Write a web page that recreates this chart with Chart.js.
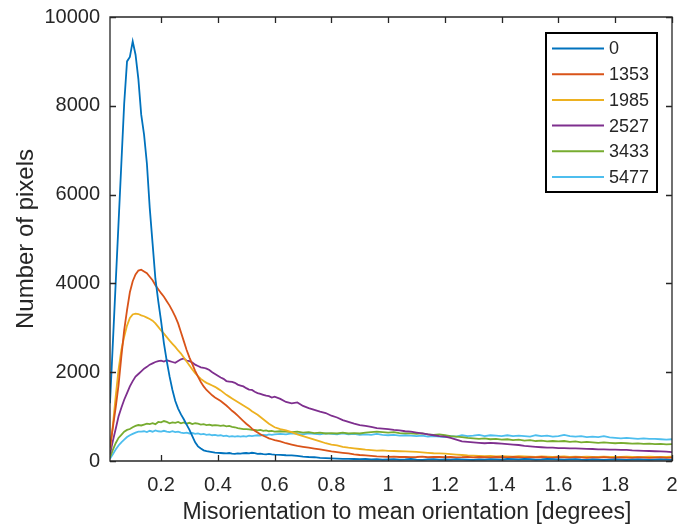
<!DOCTYPE html>
<html>
<head>
<meta charset="utf-8">
<script src="https://cdn.jsdelivr.net/npm/chart.js@4"></script>
<style>
  html, body { margin: 0; padding: 0; background: #fff; }
  #wrap { width: 680px; height: 526px; }
</style>
</head>
<body>
<div id="wrap"><canvas id="myChart" width="680" height="526"></canvas></div>
<script>
// misorientation bins [degrees]
const xValues = [
  0.02, 0.03, 0.04, 0.05, 0.06, 0.07, 0.08, 0.09, 0.10, 0.11,
  0.12, 0.13, 0.14, 0.15, 0.16, 0.17, 0.18, 0.19, 0.20, 0.21,
  0.22, 0.23, 0.24, 0.25, 0.26, 0.27, 0.28, 0.29, 0.30, 0.31,
  0.32, 0.33, 0.34, 0.35, 0.36, 0.37, 0.38, 0.39, 0.40, 0.41,
  0.42, 0.43, 0.44, 0.45, 0.46, 0.47, 0.48, 0.49, 0.50, 0.51,
  0.52, 0.53, 0.54, 0.55, 0.56, 0.57, 0.58, 0.59, 0.60,
  0.62, 0.64, 0.66, 0.68, 0.70, 0.72, 0.74, 0.76, 0.78, 0.80,
  0.82, 0.84, 0.86, 0.88, 0.90, 0.92, 0.94, 0.96, 0.98, 1.00,
  1.02, 1.04, 1.06, 1.08, 1.10, 1.12, 1.14, 1.16, 1.18, 1.20,
  1.22, 1.24, 1.26, 1.28, 1.30, 1.32, 1.34, 1.36, 1.38, 1.40,
  1.42, 1.44, 1.46, 1.48, 1.50, 1.52, 1.54, 1.56, 1.58, 1.60,
  1.62, 1.64, 1.66, 1.68, 1.70, 1.72, 1.74, 1.76, 1.78, 1.80,
  1.82, 1.84, 1.86, 1.88, 1.90, 1.92, 1.94, 1.96, 1.98, 2.00
];

const pixels0 = [
  1300, 2650, 4000, 5350, 6700, 8050, 9000, 9100, 9450, 9150,
  8600, 7800, 7350, 6700, 5700, 4900, 4100, 3600, 3150, 2650,
  2250, 1900, 1600, 1350, 1180, 1050, 940, 820, 700, 560,
  420, 330, 280, 240, 220, 210, 200, 190, 185, 180,
  175, 170, 180, 165, 160, 170, 165, 175, 180, 170,
  185, 175, 160, 165, 155, 150, 160, 150, 145,
  140, 130, 125, 115, 100, 90, 85, 70, 65, 60,
  55, 50, 50, 45, 40, 45, 35, 40, 30, 35,
  40, 30, 35, 45, 30, 25, 35, 40, 30, 35,
  30, 40, 35, 30, 25, 35, 30, 40, 35, 30,
  45, 40, 35, 50, 40, 30, 35, 45, 40, 35,
  30, 35, 40, 30, 25, 35, 30, 25, 30, 35,
  30, 25, 30, 35, 30, 25, 30, 35, 30, 25
];

const pixels1353 = [
  300, 750, 1200, 1700, 2350, 2950, 3400, 3800, 4050, 4200,
  4290, 4310, 4270, 4230, 4150, 4070, 3960, 3870, 3780, 3700,
  3600, 3500, 3380, 3250, 3100, 2900, 2700, 2500, 2330, 2180,
  2030, 1900, 1780, 1680, 1600, 1540, 1480, 1430, 1390, 1350,
  1300, 1250, 1190, 1130, 1080, 1020, 960, 900, 840, 790,
  730, 680, 640, 600, 570, 540, 510, 490, 470,
  440, 400, 370, 340, 320, 300, 280, 260, 240, 215,
  200, 185, 170, 150, 135, 125, 115, 105, 100, 95,
  100, 90, 95, 85, 90, 100, 85, 90, 95, 85,
  90, 80, 85, 95, 80, 90, 85, 80, 90, 85,
  80, 90, 85, 75, 85, 80, 90, 80, 75, 85,
  80, 75, 85, 80, 70, 80, 75, 85, 75, 70,
  80, 75, 70, 80, 75, 70, 75, 80, 70, 75
];

const pixels1985 = [
  250, 800, 1450, 2050, 2500, 2800, 3050, 3220, 3300, 3320,
  3310, 3280, 3260, 3230, 3200, 3160, 3100, 3020, 2940, 2870,
  2790, 2710, 2640, 2570, 2490, 2420, 2330, 2240, 2150, 2060,
  1980, 1910, 1850, 1800, 1760, 1730, 1700, 1670, 1630, 1590,
  1540, 1490, 1450, 1410, 1370, 1330, 1290, 1250, 1210, 1170,
  1120, 1080, 1040, 990, 940, 890, 840, 800, 760,
  720, 690, 650, 600, 560, 520, 480, 440, 400, 370,
  350, 320, 300, 285, 270, 255, 245, 235, 240, 230,
  225, 220, 215, 210, 205, 195, 185, 175, 170, 165,
  155, 145, 135, 125, 120, 115, 110, 115, 105, 110,
  105, 100, 110, 105, 100, 95, 105, 100, 95, 100,
  105, 95, 100, 90, 100, 95, 90, 100, 95, 90,
  95, 100, 90, 95, 90, 100, 95, 90, 95, 100
];

const pixels2527 = [
  150, 450, 720, 1000, 1200, 1380, 1530, 1680, 1800, 1900,
  1960, 2020, 2080, 2120, 2170, 2200, 2230, 2250, 2260, 2240,
  2270, 2250, 2230, 2210, 2250, 2290, 2310, 2260, 2250, 2220,
  2170, 2140, 2110, 2100, 2080, 2050, 2000, 1960, 1920, 1880,
  1850, 1800, 1790, 1780, 1760, 1720, 1700, 1680, 1640, 1610,
  1600, 1560, 1530, 1510, 1490, 1470, 1460, 1430, 1450,
  1400, 1330, 1300, 1320, 1240, 1190, 1150, 1110, 1080, 1020,
  980, 920, 880, 840, 810, 790, 770, 740, 730, 720,
  700, 690, 670, 660, 640, 620, 600, 580, 560, 550,
  520, 480, 440, 430, 420, 410, 400, 410, 400, 390,
  380, 370, 360, 340, 330, 320, 310, 300, 300, 290,
  290, 285, 285, 280, 275, 270, 260, 260, 255, 255,
  250, 250, 240, 235, 230, 225, 220, 215, 210, 200
];

const pixels3433 = [
  80, 250, 400, 520, 590, 660, 700, 720, 760, 790,
  810, 800, 820, 840, 830, 850, 830, 880, 870, 900,
  880, 850, 870, 860, 880, 850, 870, 840, 860, 830,
  850, 840, 820, 830, 810, 820, 800, 810, 800, 790,
  800, 780, 790, 770, 760, 740, 730, 720, 720, 710,
  700, 700, 690, 700, 680, 690, 670, 680, 660,
  670, 660, 650, 660, 640, 650, 630, 640, 620, 630,
  620, 640, 620, 630, 620, 640, 650, 660, 650, 640,
  650, 630, 620, 620, 610, 620, 600, 590, 600, 580,
  560, 550, 540, 520, 510, 500, 510, 490, 500, 480,
  490, 470, 480, 460, 470, 450, 460, 440, 450, 440,
  450, 430, 440, 420, 430, 420, 410, 420, 410, 400,
  410, 400, 390, 395, 385, 390, 380, 385, 375, 380
];

const pixels5477 = [
  50, 150, 260, 350, 420, 480, 540, 580, 610, 640,
  660, 660, 670, 650, 680, 660, 690, 670, 660, 680,
  660, 650, 670, 650, 660, 640, 630, 640, 620, 630,
  610, 620, 600, 610, 590, 600, 580, 590, 570, 580,
  560, 570, 550, 560, 550, 560, 550, 560, 550, 570,
  560, 570, 580, 570, 590, 580, 600, 590, 600,
  610, 600, 620, 610, 600, 620, 610, 600, 620, 610,
  600, 620, 600, 610, 590, 600, 590, 610, 590, 580,
  590, 570, 580, 570, 560, 570, 550, 560, 550, 540,
  560, 550, 580, 560, 570, 590, 560, 580, 570, 560,
  580, 560, 570, 560, 550, 580, 560, 570, 550, 560,
  590, 560, 550, 560, 540, 550, 540, 560, 530, 520,
  510, 520, 510, 500, 510, 500, 500, 490, 480, 490
];

const seriesLabels = ['0', '1353', '1985', '2527', '3433', '5477'];
const seriesValues = [pixels0, pixels1353, pixels1985, pixels2527, pixels3433, pixels5477];
const seriesColors = ['#0072BD', '#D95319', '#EDB120', '#7E2F8E', '#77AC30', '#4DBEEE'];

const xTicks = [0.2, 0.4, 0.6, 0.8, 1, 1.2, 1.4, 1.6, 1.8, 2];
const yTicks = [0, 2000, 4000, 6000, 8000, 10000];
const xTitle = 'Misorientation to mean orientation [degrees]';
const yTitle = 'Number of pixels';

const ink = '#262626';
const fontFamily = "'Liberation Sans', Arial, Helvetica, sans-serif";

// box around the plot, inward ticks, x title and the legend box, MATLAB style
const framePlugin = {
  id: 'frame',
  afterDatasetsDraw(chart) {
    const ctx = chart.ctx;
    const a = chart.chartArea;
    const xs = chart.scales.x, ys = chart.scales.y;
    const len = 6;
    ctx.save();
    ctx.strokeStyle = ink;
    ctx.lineWidth = 1.3;
    ctx.beginPath();
    ctx.rect(a.left, a.top, a.right - a.left, a.bottom - a.top);
    xTicks.forEach(v => {
      const px = Math.round(xs.getPixelForValue(v)) + 0.5;
      ctx.moveTo(px, a.bottom); ctx.lineTo(px, a.bottom - len);
      ctx.moveTo(px, a.top); ctx.lineTo(px, a.top + len);
    });
    yTicks.forEach(v => {
      const py = Math.round(ys.getPixelForValue(v)) + 0.5;
      ctx.moveTo(a.left, py); ctx.lineTo(a.left + len, py);
      ctx.moveTo(a.right, py); ctx.lineTo(a.right - len, py);
    });
    ctx.stroke();

    // x axis title, sits a little right of the axis centre in the original
    ctx.fillStyle = ink;
    ctx.font = '23px ' + fontFamily;
    ctx.textAlign = 'center';
    ctx.textBaseline = 'middle';
    ctx.fillText(xTitle, (a.left + a.right) / 2 + 16, a.bottom + 52);

    // legend
    const boxW = 111, boxH = 159;
    const bx = a.right - 15 - boxW, by = a.top + 16;
    ctx.fillStyle = '#fff';
    ctx.fillRect(bx, by, boxW, boxH);
    ctx.lineWidth = 2;
    ctx.strokeStyle = '#000';
    ctx.strokeRect(bx, by, boxW, boxH);
    ctx.font = '18px ' + fontFamily;
    ctx.textBaseline = 'middle';
    ctx.textAlign = 'left';
    chart.data.datasets.forEach((ds, i) => {
      const ry = by + 15.5 + i * 25.7;
      ctx.strokeStyle = ds.borderColor;
      ctx.lineWidth = 2;
      ctx.beginPath();
      ctx.moveTo(bx + 6, ry); ctx.lineTo(bx + 58, ry);
      ctx.stroke();
      ctx.fillStyle = ink;
      ctx.fillText(ds.label, bx + 63, ry + 1);
    });
    ctx.restore();
  }
};

const datasets = seriesLabels.map((label, i) => ({
  label: label,
  data: xValues.map((x, j) => ({ x: x, y: seriesValues[i][j] })),
  borderColor: seriesColors[i],
  backgroundColor: seriesColors[i],
  borderWidth: 1.8,
  pointRadius: 0,
  tension: 0,
  fill: false
}));

const config = {
  type: 'line',
  data: { datasets: datasets },
  options: {
    responsive: false,
    animation: false,
    layout: { padding: { top: 17, right: 8, left: 0, bottom: 0 } },
    plugins: {
      legend: { display: false },
      tooltip: { enabled: false }
    },
    scales: {
      x: {
        type: 'linear',
        min: 0.02,
        max: 2,
        afterBuildTicks: scale => { scale.ticks = xTicks.map(v => ({ value: v })); },
        afterFit: scale => {
          scale.height = 65;
          scale.paddingLeft = 0;
          scale.paddingRight = 0;
        },
        grid: { display: false, drawTicks: false },
        border: { display: false },
        ticks: {
          padding: 12,
          color: ink,
          maxRotation: 0,
          autoSkip: false,
          font: { family: fontFamily, size: 20 },
          callback: v => String(v)
        },
        title: { display: false }
      },
      y: {
        min: 0,
        max: 10000,
        afterBuildTicks: scale => { scale.ticks = yTicks.map(v => ({ value: v })); },
        afterFit: scale => {
          scale.width = 110;
          scale.paddingTop = 0;
          scale.paddingBottom = 0;
        },
        grid: { display: false, drawTicks: false },
        border: { display: false },
        ticks: {
          padding: 10,
          color: ink,
          autoSkip: false,
          font: { family: fontFamily, size: 20 },
          callback: v => String(v)
        },
        title: {
          display: true,
          text: yTitle,
          color: ink,
          padding: { top: 12, bottom: 4 },
          font: { family: fontFamily, size: 24 }
        }
      }
    }
  },
  plugins: [framePlugin]
};

var myChart = new Chart(document.getElementById('myChart'), config);
</script>
</body>
</html>
